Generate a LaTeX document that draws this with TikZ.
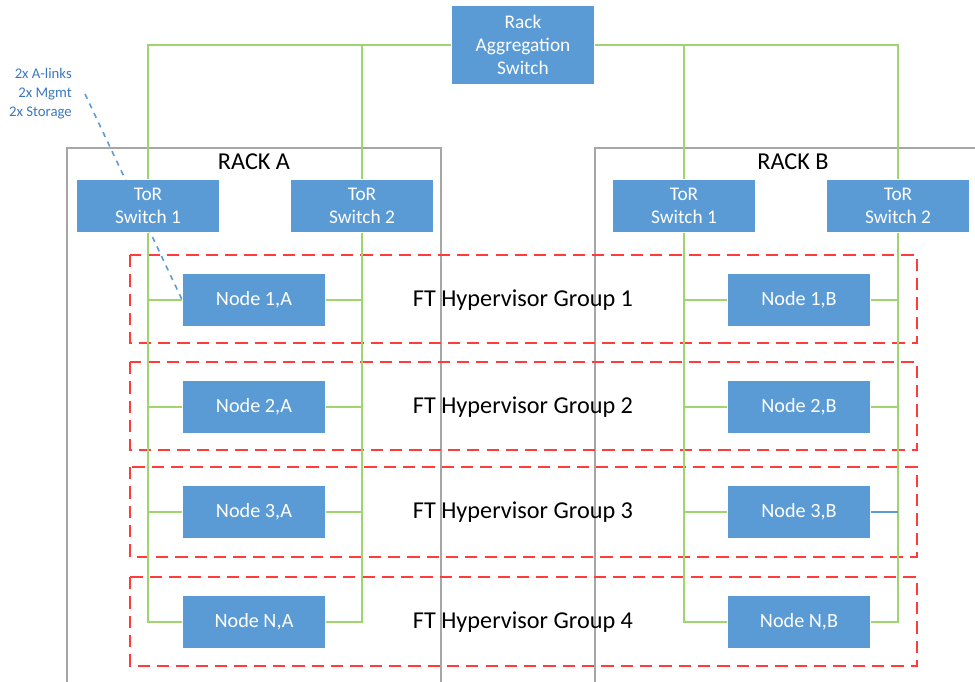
\documentclass[tikz,border=0pt]{standalone}
\usepackage{fontspec}
\setmainfont{Carlito}
\usepackage{xcolor}
\usepackage{tikz}

\definecolor{boxblue}{HTML}{5B9BD5}
\definecolor{linkgreen}{HTML}{9FD46E}
\definecolor{grpred}{HTML}{FF3B3B}
\definecolor{rackgray}{HTML}{A6A6A6}
\definecolor{noteblue}{HTML}{3A78C0}

\tikzset{
  swbox/.style={fill=boxblue, text=white, align=center, inner sep=0pt,
    minimum width=2.86cm, minimum height=1.06cm, font=\fontsize{11}{13}\selectfont},
  hvbox/.style={swbox, font=\fontsize{11.5}{13}\selectfont},
  link/.style={linkgreen, line width=1pt},
  grp/.style={grpred, line width=1.3pt, dash pattern=on 7pt off 4pt},
  rack/.style={rackgray, line width=1.3pt},
  biglbl/.style={font=\fontsize{13.8}{16}\selectfont},
  note/.style={noteblue, align=right, font=\fontsize{8.4}{10.8}\selectfont}
}

\begin{document}
\begin{tikzpicture}[x=0.02cm,y=-0.02cm]
\useasboundingbox (0,0) rectangle (975,682);

% racks
\draw[rack] (67,685) |- (441,148) -- (441,685);
\draw[rack] (595,685) |- (978,148);
\node[biglbl] (rackA) at (254,162) {RACK A};
\node[biglbl] (rackB) at (793,162) {RACK B};

% hypervisor groups
\foreach \i/\ya/\yb/\yc in {1/255/343/300,2/362/450/407,3/467/557/512,4/577/666/622}{
  \draw[grp] (130,\ya) rectangle (917,\yb);
  \node[biglbl] (grp\i) at (523,\yc) {FT Hypervisor Group \i};
}

% hypervisor nodes
\foreach \i/\y/\t in {1/300/1,2/407/2,3/512/3,4/622/N}{
  \node[hvbox] (n\i a) at (254,\y) {Node \t,A};
  \node[hvbox] (n\i b) at (799,\y) {Node \t,B};
}

% note
\node[note, anchor=east] (links) at (78,94) {2x A-links\\2x Mgmt\\2x Storage};
\draw[boxblue, line width=0.9pt, dashed] ([xshift=4pt]links.east) -- (n1a.west);

% switches
\node[swbox, minimum height=1.58cm] (agg) at (523,45) {Rack\\Aggregation\\Switch};
\node[swbox] (torA1) at (148,206) {ToR\\Switch 1};
\node[swbox] (torA2) at (362,206) {ToR\\Switch 2};
\node[swbox] (torB1) at (684,206) {ToR\\Switch 1};
\node[swbox] (torB2) at (898,206) {ToR\\Switch 2};

\draw[link] (agg.west) -| (torA1.north);
\draw[link] (agg.west) -| (torA2.north);
\draw[link] (agg.east) -| (torB1.north);
\draw[link] (agg.east) -| (torB2.north);

\foreach \i in {1,2,3,4}{
  \draw[link] (torA1.south) |- (n\i a.west);
  \draw[link] (torA2.south) |- (n\i a.east);
  \draw[link] (torB1.south) |- (n\i b.west);
}
\foreach \i in {1,2,4}
  \draw[link] (torB2.south) |- (n\i b.east);
\draw[link] (torB2.south) -- (torB2.south |- n3b.east);
\draw[boxblue, line width=1pt] (n3b.east) -- (torB2.south |- n3b.east);
\end{tikzpicture}
\end{document}
